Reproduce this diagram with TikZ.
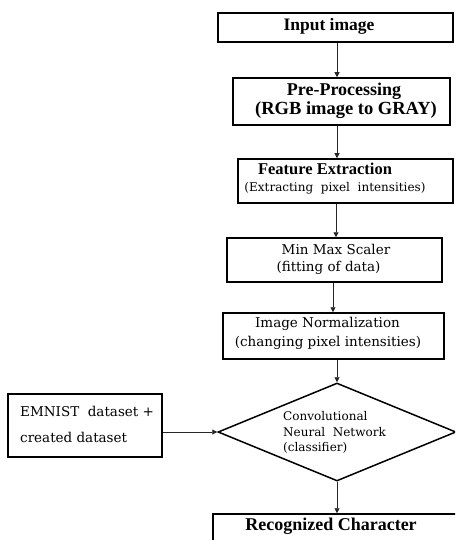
\documentclass[tikz,border=0pt]{standalone}
\usepackage{fontspec}
\setmainfont{Liberation Serif}
\newfontfamily\widefont{DejaVu Serif}
\usetikzlibrary{shapes.geometric,arrows.meta}
\begin{document}
\begin{tikzpicture}[x=1pt,y=-1pt,
  box/.style={draw,line width=1.5pt,inner sep=0pt,rectangle},
  ttl/.style={inner sep=0pt,font=\fontsize{16.5}{18}\selectfont\bfseries,text height=0.7em,text depth=0.2em},
  sub/.style={inner sep=0pt,font=\widefont\fontsize{13.5}{15}\selectfont,text height=0.7em,text depth=0.2em},
  subsm/.style={inner sep=0pt,font=\widefont\fontsize{12}{14}\selectfont,text height=0.7em,text depth=0.2em},
  small/.style={inner sep=0pt,font=\widefont\fontsize{12}{14}\selectfont,text height=0.7em,text depth=0.2em,anchor=west},
  arr/.style={line width=0.9pt,draw=black!85,-{Triangle[length=5pt,width=5pt]}}]
\useasboundingbox (0,0) rectangle (455,540);
\clip (0,0) rectangle (455,540);
% boxes
\node[box,minimum width=235pt,minimum height=29pt] (in) at (335.5,27.5) {};
\node[box,minimum width=217pt,minimum height=47pt] (pre) at (341.5,101.5) {};
\node[box,minimum width=215pt,minimum height=44pt] (feat) at (345.5,181) {};
\node[box,minimum width=215pt,minimum height=44pt] (mm) at (334.5,260) {};
\node[box,minimum width=221pt,minimum height=46pt] (norm) at (333.5,336) {};
\node[draw,line width=1.5pt,diamond,inner sep=0pt,minimum width=238pt,minimum height=98pt] (dia) at (337,432) {};
\node[box,minimum width=154pt,minimum height=63pt] (em) at (85,425.5) {};
\node[box,minimum width=257pt,minimum height=36pt] (rec) at (341.5,532) {};
% texts
\node[ttl,font=\fontsize{17.5}{19}\selectfont\bfseries] (t1) at (329,28) {Input image};
\node[ttl,font=\fontsize{18}{19}\selectfont\bfseries] (t2a) at (344,93) {Pre-Processing};
\node[ttl,font=\fontsize{18.5}{20}\selectfont\bfseries] (t2b) at (346,112) {(RGB image to GRAY)};
\node[ttl] (t3a) at (325,172) {Feature Extraction};
\node[subsm] (t3b) at (335,189) {(Extracting\ \ pixel\ \ intensities)};
\node[sub] (t4a) at (336,252) {Min Max Scaler};
\node[sub] (t4b) at (328.5,269) {(fitting of data)};
\node[sub] (t5a) at (327.5,325) {Image Normalization};
\node[sub] (t5b) at (328,344) {(changing pixel intensities)};
\node[small] (t6a) at (283,418) {Convolutional};
\node[small] (t6b) at (283,434) {Neural\ \ Network};
\node[small] (t6c) at (283,449) {(classifier)};
\node[sub,anchor=west] (t7a) at (20,414) {EMNIST\ \ dataset +};
\node[sub,anchor=west] (t7b) at (20,440) {created dataset};
\node[ttl,font=\fontsize{18}{19}\selectfont\bfseries] (t8) at (331,528) {Recognized Character};
% arrows
\draw[arr] (in.south -| dia.north) -- (pre.north -| dia.north);
\draw[arr] (pre.south -| dia.north) -- (feat.north -| dia.north);
\draw[arr] ([xshift=-1pt]feat.south -| dia.north) -- ([xshift=-1pt]mm.north -| dia.north);
\draw[arr] ([xshift=-4pt]mm.south -| dia.north) -- ([xshift=-4pt]norm.north -| dia.north);
\draw[arr] (norm.south -| dia.north) -- (dia.north);
\draw[arr] (em.east |- dia.west) -- (dia.west);
\draw[arr] (dia.south) -- (rec.north -| dia.south);
\end{tikzpicture}
\end{document}
